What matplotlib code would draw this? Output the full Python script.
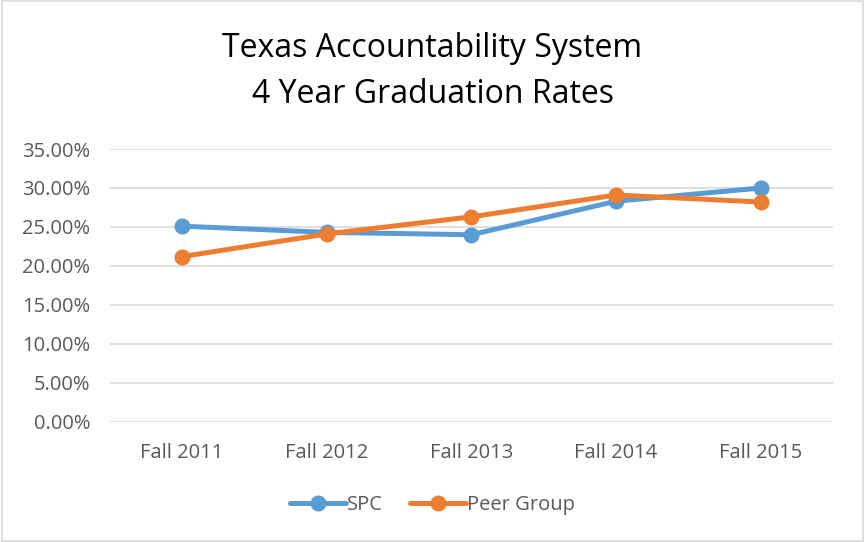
import matplotlib
matplotlib.use("Agg")
import matplotlib.pyplot as plt
from matplotlib.ticker import PercentFormatter

# ─── Data ─────────────────────────────────────────────────────────────────────
terms = ["Fall 2011", "Fall 2012", "Fall 2013", "Fall 2014", "Fall 2015"]
spc = [0.251, 0.243, 0.240, 0.283, 0.300]
peer_group = [0.212, 0.241, 0.263, 0.291, 0.282]

BLUE = "#5B9BD5"
ORANGE = "#ED7D31"
GRID = "#D9D9D9"
TEXT = "#595959"

plt.rcParams["font.family"] = ["Open Sans", "DejaVu Sans"]

fig = plt.figure(figsize=(8.65, 5.42), dpi=100)
fig.patch.set_facecolor("white")
ax = fig.add_axes([0.127, 0.222, 0.836, 0.503])

x = range(len(terms))
ax.plot(x, spc, color=BLUE, lw=3.6, marker="o", ms=10.5, label="SPC",
        solid_capstyle="round", zorder=3)
ax.plot(x, peer_group, color=ORANGE, lw=3.6, marker="o", ms=10.5,
        label="Peer Group", solid_capstyle="round", zorder=4)

ax.set_xlim(-0.5, len(terms) - 0.5)
ax.set_ylim(0, 0.35)
ax.set_yticks([i * 0.05 for i in range(8)])
ax.yaxis.set_major_formatter(PercentFormatter(1.0, decimals=2))
ax.set_xticks(list(x))
ax.set_xticklabels(terms)
ax.grid(axis="y", color=GRID, lw=1.2)
ax.set_axisbelow(True)
for s in ax.spines.values():
    s.set_visible(False)
ax.tick_params(length=0, labelsize=14.5, colors=TEXT)
ax.tick_params(axis="x", pad=15)
ax.tick_params(axis="y", pad=14)

fig.text(0.5, 0.911, "Texas Accountability System", ha="center", va="center",
         fontsize=23, color="black")
fig.text(0.5, 0.825, "4 Year Graduation Rates", ha="center", va="center",
         fontsize=23, color="black")

leg = fig.legend(loc="center", bbox_to_anchor=(0.5, 0.068), ncol=2,
                 frameon=False, fontsize=14.5, handlelength=2.8,
                 handletextpad=0.05, columnspacing=1.3)
for t in leg.get_texts():
    t.set_color(TEXT)

# light border round the chart area
fig.add_artist(plt.Rectangle((0.002, 0.002), 0.996, 0.996, fill=False,
                             edgecolor=GRID, lw=1.2, transform=fig.transFigure))

fig.savefig("out.png", dpi=100, facecolor="white")
